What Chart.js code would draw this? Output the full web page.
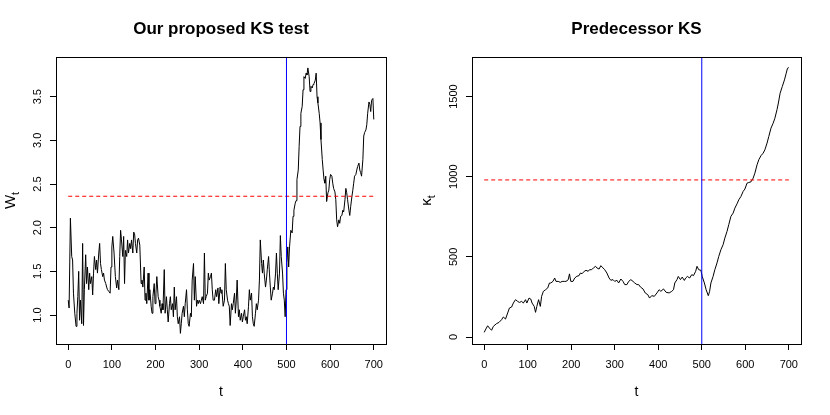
<!DOCTYPE html>
<html>
<head>
<meta charset="utf-8">
<script src="https://cdn.jsdelivr.net/npm/chart.js@4.4.1/dist/chart.umd.min.js"></script>
<style>
  html, body { margin: 0; padding: 0; background: #fff; }
  #wrap { display: flex; width: 830px; height: 415px; }
  canvas { display: block; }
</style>
</head>
<body>
<div id="wrap">
  <canvas id="leftChart" width="415" height="415"></canvas>
  <canvas id="rightChart" width="415" height="415"></canvas>
</div>
<script>
// left panel: W_t
const tLeft = [
  0, 2, 5, 8, 10, 12, 15, 18, 20, 22,
  24, 26, 28, 31, 33, 35, 37, 40, 42, 44,
  47, 49, 51, 54, 56, 58, 60, 63, 65, 67,
  70, 72, 74, 76, 79, 81, 83, 86, 88, 90,
  93, 96, 98, 100, 102, 105, 108, 111, 113, 116,
  118, 120, 122, 125, 127, 129, 131, 134, 136, 138,
  141, 143, 145, 148, 150, 152, 154, 157, 159, 161,
  164, 167, 169, 171, 174, 176, 178, 180, 183, 185,
  187, 190, 192, 194, 197, 199, 201, 203, 206, 208,
  210, 213, 215, 217, 220, 222, 225, 227, 229, 232,
  234, 236, 239, 241, 243, 245, 248, 250, 252, 255,
  257, 259, 261, 264, 266, 268, 271, 273, 275, 277,
  280, 282, 284, 287, 289, 291, 294, 296, 298, 300,
  303, 305, 307, 310, 312, 314, 316, 319, 321, 323,
  326, 328, 330, 332, 335, 338, 340, 343, 345, 348,
  350, 352, 355, 358, 360, 362, 365, 367, 369, 371,
  374, 376, 378, 381, 383, 385, 387, 390, 392, 394,
  397, 399, 401, 404, 406, 408, 410, 413, 415, 417,
  420, 422, 424, 426, 429, 431, 433, 436, 438, 440,
  443, 445, 447, 449, 452, 454, 456, 459, 461, 463,
  465, 468, 470, 472, 475, 477, 479, 481, 484, 486,
  488, 491, 493, 495, 497, 499, 501, 503, 505, 507,
  510, 513, 515, 517, 520, 522, 524, 527, 529, 531,
  533, 536, 538, 540, 543, 545, 547, 549, 552, 554,
  556, 559, 561, 563, 566, 568, 570, 572, 575, 577,
  579, 582, 584, 586, 588, 590, 592, 595, 597, 599,
  601, 604, 606, 608, 611, 613, 615, 617, 620, 622,
  624, 627, 629, 631, 634, 636, 638, 640, 643, 645,
  647, 650, 652, 654, 656, 659, 661, 663, 666, 668,
  670, 672, 675, 677, 679, 682, 684, 686, 689, 691,
  693, 695, 698, 700
];
const wLeft = [
  1.17, 1.08, 2.11, 1.67, 1.63, 1.25, 1.02, 0.87, 1.02, 1.21,
  1.50, 0.94, 1.17, 0.90, 1.82, 0.88, 1.29, 1.69, 1.36, 1.55,
  1.29, 1.48, 1.36, 1.44, 1.23, 1.48, 1.67, 1.52, 1.63, 1.48,
  1.71, 1.82, 1.59, 1.52, 1.44, 1.48, 1.40, 1.36, 1.32, 1.29,
  1.27, 1.25, 1.55, 1.78, 1.90, 1.71, 1.44, 1.31, 1.40, 1.29,
  1.67, 1.97, 1.86, 1.67, 1.90, 1.36, 1.74, 1.67, 1.86, 1.71,
  1.82, 1.76, 1.86, 1.71, 1.95, 1.93, 1.82, 1.71, 1.86, 1.88,
  1.80, 1.36, 1.40, 1.32, 1.55, 1.17, 1.25, 1.13, 1.48, 1.17,
  1.29, 1.10, 1.02, 1.21, 1.36, 1.13, 1.25, 1.44, 1.21, 1.17,
  1.10, 1.02, 1.13, 1.06, 1.52, 1.02, 1.21, 1.06, 0.92, 1.13,
  1.21, 1.06, 1.13, 0.98, 1.32, 1.06, 1.21, 0.98, 0.90, 0.98,
  0.79, 0.90, 1.02, 1.10, 0.98, 1.13, 1.29, 1.06, 0.90, 0.87,
  1.02, 0.98, 1.40, 1.59, 1.17, 1.44, 1.10, 1.17, 1.13, 1.17,
  1.13, 1.17, 1.21, 1.13, 1.71, 1.17, 1.21, 1.25, 1.48, 1.40,
  1.44, 1.48, 1.29, 1.17, 1.17, 1.29, 1.21, 1.31, 1.13, 1.32,
  1.25, 1.29, 1.10, 1.17, 1.59, 1.29, 1.17, 1.13, 1.10, 0.88,
  1.13, 1.06, 1.13, 1.25, 1.02, 1.17, 1.40, 0.98, 1.06, 0.94,
  1.02, 0.92, 0.98, 1.06, 0.94, 0.98, 0.90, 1.10, 1.29, 1.17,
  1.25, 0.98, 0.90, 0.87, 1.02, 1.13, 1.06, 1.17, 1.40, 1.86,
  1.59, 1.48, 1.63, 1.48, 1.32, 1.40, 1.52, 1.67, 1.48, 1.32,
  1.17, 1.25, 1.32, 1.29, 1.48, 1.71, 1.48, 1.29, 1.48, 1.91,
  1.67, 1.48, 1.25, 1.17, 0.98, 1.29, 1.60, 1.78, 1.55, 1.78,
  1.97, 1.94, 2.13, 2.20, 2.28, 2.31, 2.55, 2.66, 2.93, 3.16,
  3.31, 3.39, 3.58, 3.73, 3.71, 3.77, 3.75, 3.83, 3.73, 3.56,
  3.62, 3.60, 3.64, 3.65, 3.69, 3.77, 3.50, 3.43, 3.31, 3.20,
  3.01, 2.78, 2.66, 2.55, 2.51, 2.59, 2.30, 2.40, 2.43, 2.55,
  2.61, 2.59, 2.51, 2.45, 2.41, 2.32, 2.09, 2.01, 2.09, 2.05,
  2.13, 2.14, 2.20, 2.18, 2.32, 2.45, 2.40, 2.32, 2.20, 2.14,
  2.24, 2.36, 2.43, 2.51, 2.59, 2.61, 2.66, 2.70, 2.74, 2.66,
  2.63, 2.59, 2.78, 3.05, 3.09, 3.12, 3.18, 3.31, 3.44, 3.41,
  3.33, 3.46, 3.48, 3.24
];

// right panel: kappa_t
const tRight = [
  0, 5, 8, 12, 17, 21, 28, 34, 40, 44,
  49, 54, 58, 63, 67, 72, 77, 81, 86, 90,
  95, 98, 103, 107, 110, 115, 118, 121, 125, 129,
  132, 136, 141, 146, 150, 153, 158, 162, 165, 170,
  175, 179, 184, 188, 193, 196, 199, 204, 208, 213,
  218, 221, 225, 230, 234, 239, 242, 247, 251, 256,
  259, 264, 268, 273, 277, 282, 287, 291, 296, 300,
  305, 309, 314, 319, 323, 328, 332, 337, 342, 346,
  351, 355, 359, 365, 370, 376, 380, 385, 391, 397,
  402, 406, 412, 418, 425, 431, 435, 438, 443, 446,
  451, 455, 460, 463, 467, 472, 477, 481, 486, 489,
  493, 498, 501, 506, 510, 515, 518, 521, 526, 530,
  535, 539, 544, 549, 553, 558, 562, 567, 572, 576,
  581, 585, 590, 595, 599, 604, 608, 613, 618, 622,
  627, 631, 636, 641, 645, 650, 654, 659, 664, 668,
  673, 676, 680, 685, 690, 694, 697, 700
];
const kRight = [
  29, 56, 70, 56, 42, 66, 83, 91, 108, 125,
  112, 150, 181, 187, 212, 233, 222, 216, 222, 212,
  233, 212, 243, 237, 212, 191, 154, 191, 233, 191,
  254, 285, 295, 306, 337, 337, 347, 368, 347, 347,
  341, 347, 347, 347, 357, 394, 347, 347, 368, 379,
  383, 399, 395, 410, 416, 410, 420, 420, 431, 441,
  431, 424, 445, 431, 420, 399, 368, 354, 358, 347,
  354, 337, 362, 347, 327, 327, 347, 358, 347, 337,
  327, 327, 312, 300, 275, 264, 243, 258, 254, 275,
  295, 285, 300, 279, 275, 285, 295, 337, 358, 378,
  358, 374, 353, 368, 378, 368, 389, 383, 410, 441,
  420, 416, 378, 337, 295, 258, 285, 337, 378, 420,
  462, 503, 545, 576, 617, 659, 701, 753, 773, 804,
  831, 856, 877, 908, 923, 960, 964, 968, 991, 1022,
  1074, 1106, 1131, 1147, 1168, 1210, 1251, 1303, 1334, 1365,
  1420, 1460, 1521, 1563, 1604, 1646, 1677, 1681
];

const xTicks = [0, 100, 200, 300, 400, 500, 600, 700];
const leftYTicks = [1.0, 1.5, 2.0, 2.5, 3.0, 3.5];
const leftYLabels = ['1.0', '1.5', '2.0', '2.5', '3.0', '3.5'];
const rightYTicks = [0, 500, 1000, 1500];
const rightYLabels = ['0', '500', '1000', '1500'];

const changePoint = 500;
const leftThreshold = 2.36;
const rightThreshold = 980;
const tRange = [-28, 728];
const leftYRange = [0.668, 3.955];
const rightYRange = [-43.6, 1747];

const FONT = "'Liberation Sans', Arial, Helvetica, sans-serif";

// box, title, axis titles and rotated y labels (R style)
function decorPlugin(title, yMain, ySub, yTicks, yLabels) {
  return {
    id: 'decor',
    afterDraw(chart) {
      const ctx = chart.ctx;
      const a = chart.chartArea;
      const ys = chart.scales.y;
      ctx.save();
      ctx.strokeStyle = '#000';
      ctx.lineWidth = 1;
      ctx.strokeRect(Math.round(a.left) + 0.5, Math.round(a.top) + 0.5,
        Math.round(a.right - a.left), Math.round(a.bottom - a.top));

      ctx.fillStyle = '#000';
      ctx.textAlign = 'center';
      ctx.textBaseline = 'middle';
      ctx.font = 'bold 17px ' + FONT;
      ctx.fillText(title, (a.left + a.right) / 2, 29);

      ctx.font = '14px ' + FONT;
      ctx.fillText('t', (a.left + a.right) / 2, 392);

      ctx.font = '11px ' + FONT;
      yTicks.forEach((v, i) => {
        ctx.save();
        ctx.translate(a.left - 18, ys.getPixelForValue(v));
        ctx.rotate(-Math.PI / 2);
        ctx.fillText(yLabels[i], 0, 0);
        ctx.restore();
      });

      // y title with subscript
      ctx.save();
      ctx.translate(a.left - 45, (a.top + a.bottom) / 2);
      ctx.rotate(-Math.PI / 2);
      ctx.font = '15px ' + FONT;
      const wMain = ctx.measureText(yMain).width;
      ctx.font = '11px ' + FONT;
      const wSub = ctx.measureText(ySub).width;
      const x0 = -(wMain + wSub) / 2;
      ctx.textAlign = 'left';
      ctx.font = '15px ' + FONT;
      ctx.fillText(yMain, x0, 0);
      ctx.font = '11px ' + FONT;
      ctx.fillText(ySub, x0 + wMain, 5);
      ctx.restore();

      ctx.restore();
    }
  };
}

function makePanel(id, ts, vals, yRange, yTicks, threshold, leftWidth, plugin) {
  const series = ts.map((t, i) => ({ x: t, y: vals[i] }));
  return new Chart(document.getElementById(id), {
    type: 'line',
    data: {
      datasets: [
        {
          data: [{ x: changePoint, y: yRange[0] }, { x: changePoint, y: yRange[1] }],
          borderColor: '#0000ff', borderWidth: 1, pointRadius: 0
        },
        {
          data: [{ x: 0, y: threshold }, { x: 700, y: threshold }],
          borderColor: '#ff0000', borderWidth: 1, borderDash: [4, 3], pointRadius: 0
        },
        {
          data: series,
          borderColor: '#000', borderWidth: 1, pointRadius: 0, tension: 0
        }
      ]
    },
    options: {
      responsive: false,
      animation: false,
      devicePixelRatio: 1,
      layout: { padding: { left: 0, right: 29, top: 57, bottom: 0 } },
      plugins: { legend: { display: false }, title: { display: false }, tooltip: { enabled: false } },
      scales: {
        x: {
          type: 'linear', min: tRange[0], max: tRange[1],
          afterBuildTicks: s => { s.ticks = xTicks.map(v => ({ value: v })); },
          afterFit: s => { s.height = 71; },
          border: { display: false },
          grid: { drawOnChartArea: false, drawTicks: true, tickLength: 6, color: '#000' },
          ticks: { color: '#000', font: { family: FONT, size: 11 }, padding: 8, maxRotation: 0, autoSkip: false }
        },
        y: {
          type: 'linear', min: yRange[0], max: yRange[1],
          afterBuildTicks: s => { s.ticks = yTicks.map(v => ({ value: v })); },
          afterFit: s => { s.width = leftWidth; },
          border: { display: false },
          grid: { drawOnChartArea: false, drawTicks: true, tickLength: 6, color: '#000' },
          ticks: { display: false }
        }
      }
    },
    plugins: [plugin]
  });
}

makePanel('leftChart', tLeft, wLeft, leftYRange, leftYTicks, leftThreshold, 56,
  decorPlugin('Our proposed KS test', 'W', 't', leftYTicks, leftYLabels));
makePanel('rightChart', tRight, kRight, rightYRange, rightYTicks, rightThreshold, 57,
  decorPlugin('Predecessor KS', '\u03BA', 't', rightYTicks, rightYLabels));
</script>
</body>
</html>
